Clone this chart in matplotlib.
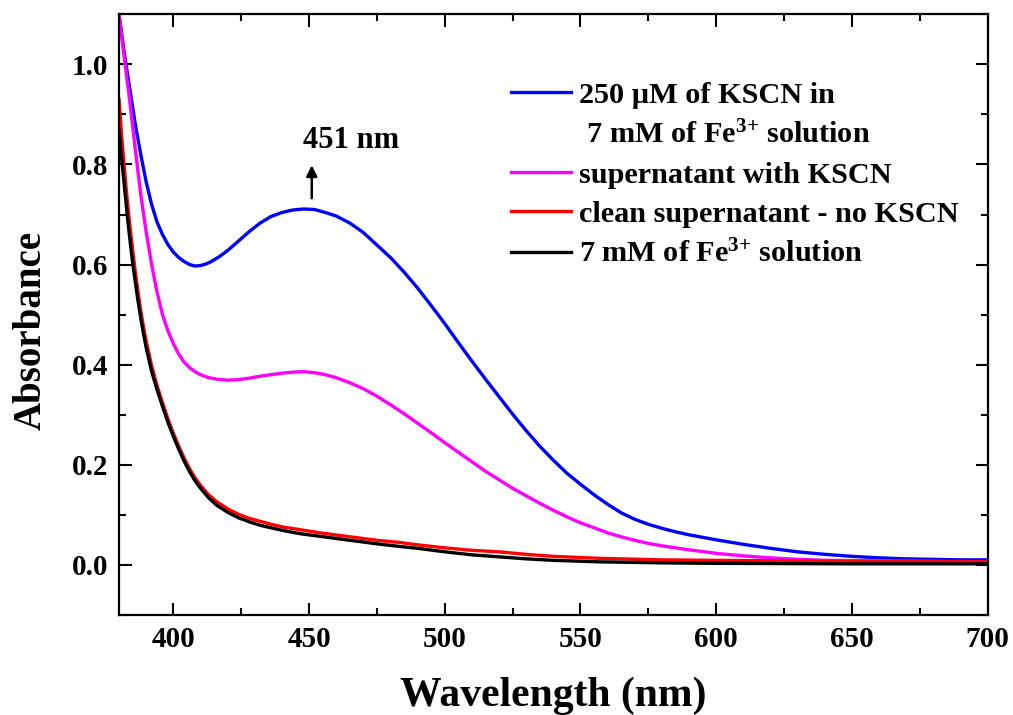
import numpy as np
import matplotlib
matplotlib.use('Agg')
import matplotlib.pyplot as plt
from matplotlib.ticker import MultipleLocator, FormatStrFormatter
from matplotlib.lines import Line2D

plt.rcParams['font.family'] = ['Liberation Serif', 'DejaVu Serif']
plt.rcParams['font.weight'] = 'bold'
plt.rcParams['mathtext.fontset'] = 'custom'
plt.rcParams['mathtext.rm'] = 'Liberation Serif:bold'
plt.rcParams['mathtext.default'] = 'rm'

# values (wavelength in nm, absorbance)
wl_blue = [380, 382, 384, 386, 388, 390, 392, 394, 396, 398, 400, 402, 404, 406, 408, 410, 412, 414,
           417, 420, 424, 428, 432, 436, 440, 444, 448, 452, 456, 460, 465, 470, 475, 480, 485, 490,
           495, 500, 505, 510, 515, 520, 525, 530, 535, 540, 545, 550, 555, 560, 565, 570, 575, 580,
           585, 590, 595, 600, 610, 620, 630, 640, 650, 660, 670, 680, 690, 700]
abs_blue = [1.100, 1.020, 0.950, 0.880, 0.820, 0.765, 0.720, 0.685, 0.660, 0.640, 0.625, 0.614, 0.606,
            0.600, 0.597, 0.598, 0.601, 0.606, 0.616, 0.628, 0.647, 0.666, 0.683, 0.696, 0.704, 0.709,
            0.711, 0.710, 0.704, 0.697, 0.683, 0.664, 0.639, 0.614, 0.585, 0.553, 0.518, 0.482, 0.444,
            0.407, 0.371, 0.336, 0.301, 0.268, 0.237, 0.209, 0.183, 0.161, 0.140, 0.121, 0.104, 0.091,
            0.081, 0.073, 0.066, 0.060, 0.055, 0.050, 0.041, 0.033, 0.026, 0.021, 0.017, 0.014, 0.012,
            0.011, 0.010, 0.010]

wl_mag = [380, 382, 384, 386, 388, 390, 392, 394, 396, 398, 400, 402, 404, 406, 408, 410, 413, 416,
          420, 424, 428, 432, 436, 440, 444, 448, 452, 456, 460, 465, 470, 475, 480, 485, 490, 495,
          500, 505, 510, 515, 520, 525, 530, 535, 540, 545, 550, 555, 560, 565, 570, 575, 580, 590,
          600, 610, 620, 630, 640, 660, 680, 700]
abs_mag = [1.100, 1.010, 0.925, 0.830, 0.740, 0.665, 0.600, 0.545, 0.500, 0.468, 0.442, 0.421, 0.405,
           0.394, 0.386, 0.380, 0.374, 0.371, 0.369, 0.370, 0.373, 0.377, 0.380, 0.383, 0.385, 0.386,
           0.384, 0.380, 0.374, 0.364, 0.352, 0.337, 0.320, 0.302, 0.283, 0.264, 0.244, 0.225, 0.206,
           0.187, 0.170, 0.153, 0.138, 0.123, 0.109, 0.096, 0.084, 0.074, 0.064, 0.056, 0.049, 0.043,
           0.038, 0.030, 0.023, 0.018, 0.014, 0.011, 0.009, 0.008, 0.007, 0.006]

wl_red = [380, 381, 382, 383, 384, 385, 386, 387, 388, 389, 390, 392, 394, 396, 398, 400, 402, 404,
          406, 408, 410, 413, 416, 420, 424, 428, 432, 436, 441, 447, 454, 461, 468, 475, 483, 490,
          500, 510, 520, 530, 540, 557, 580, 600, 650, 700]
abs_red = [0.930, 0.855, 0.790, 0.730, 0.677, 0.630, 0.585, 0.545, 0.508, 0.476, 0.447, 0.398, 0.358,
           0.324, 0.292, 0.263, 0.237, 0.213, 0.192, 0.174, 0.159, 0.140, 0.126, 0.112, 0.101, 0.093,
           0.087, 0.081, 0.075, 0.070, 0.064, 0.059, 0.054, 0.049, 0.045, 0.040, 0.034, 0.029, 0.026,
           0.021, 0.017, 0.013, 0.010, 0.009, 0.007, 0.006]

wl_black = [380, 381, 382, 383, 384, 385, 386, 387, 388, 389, 390, 392, 394, 396, 398, 400, 402, 404,
            406, 408, 410, 413, 416, 420, 424, 428, 432, 436, 441, 447, 454, 461, 468, 475, 483, 490,
            500, 510, 520, 530, 540, 557, 580, 600, 650, 700]
abs_black = [0.870, 0.810, 0.755, 0.700, 0.650, 0.605, 0.565, 0.527, 0.493, 0.462, 0.434, 0.387, 0.350,
             0.317, 0.285, 0.257, 0.231, 0.207, 0.186, 0.168, 0.153, 0.134, 0.119, 0.105, 0.094, 0.086,
             0.079, 0.074, 0.068, 0.062, 0.057, 0.052, 0.047, 0.042, 0.037, 0.033, 0.026, 0.020, 0.016,
             0.012, 0.009, 0.006, 0.004, 0.003, 0.002, 0.002]

labels = ['250 \u00b5M of KSCN in',
          ' 7 mM of Fe$^{3{+}}$ solution',
          'supernatant with KSCN',
          'clean supernatant - no KSCN',
          '7 mM of Fe$^{3{+}}$ solution']
colors = ['#0000ff', '#ff00ff', '#ff0000', '#000000']

peak_nm = 451

fig = plt.figure(figsize=(10.13, 7.15), dpi=100)
ax = fig.add_axes([0.1175, 0.140, 0.8575, 0.840])

l1, = ax.plot(wl_blue, abs_blue, color=colors[0], lw=2.4)
l2, = ax.plot(wl_mag, abs_mag, color=colors[1], lw=2.4)
l3, = ax.plot(wl_red, abs_red, color=colors[2], lw=2.4)
l4, = ax.plot(wl_black, abs_black, color=colors[3], lw=2.4)
blank = Line2D([], [], color='none')  # second line of the first label

ax.set_xlim(380, 700)
ax.set_ylim(-0.1, 1.1)
ax.xaxis.set_major_locator(MultipleLocator(50))
ax.xaxis.set_minor_locator(MultipleLocator(25))
ax.yaxis.set_major_locator(MultipleLocator(0.2))
ax.yaxis.set_minor_locator(MultipleLocator(0.1))
ax.yaxis.set_major_formatter(FormatStrFormatter('%.1f'))

ax.tick_params(which='both', direction='in', top=True, right=True, width=1.5)
ax.tick_params(which='major', length=9, labelsize=21, pad=8)
ax.tick_params(which='minor', length=5)
for s in ax.spines.values():
    s.set_linewidth(1.6)

ax.set_xlabel('Wavelength (nm)', fontsize=30, fontweight='bold', labelpad=17)
ax.set_ylabel('Absorbance', fontsize=28, fontweight='bold')
ax.yaxis.set_label_coords(-0.1015, 0.474)
ax.yaxis.label.set_va('center')

ax.annotate('', xy=(peak_nm, 0.804), xytext=(peak_nm, 0.727),
            arrowprops=dict(arrowstyle='-|>', color='black', lw=1.8, mutation_scale=16))
ax.text(447.6, 0.848, '%d nm' % peak_nm, fontsize=22, fontweight='bold', ha='left', va='center')

leg = ax.legend([l1, blank, l2, l3, l4], labels, loc='upper right', bbox_to_anchor=(0.98, 0.908),
                frameon=False, fontsize=21.8, handlelength=1.97, handletextpad=0.25,
                labelspacing=0.4, borderaxespad=0)

fig.savefig('out.png', dpi=100)
